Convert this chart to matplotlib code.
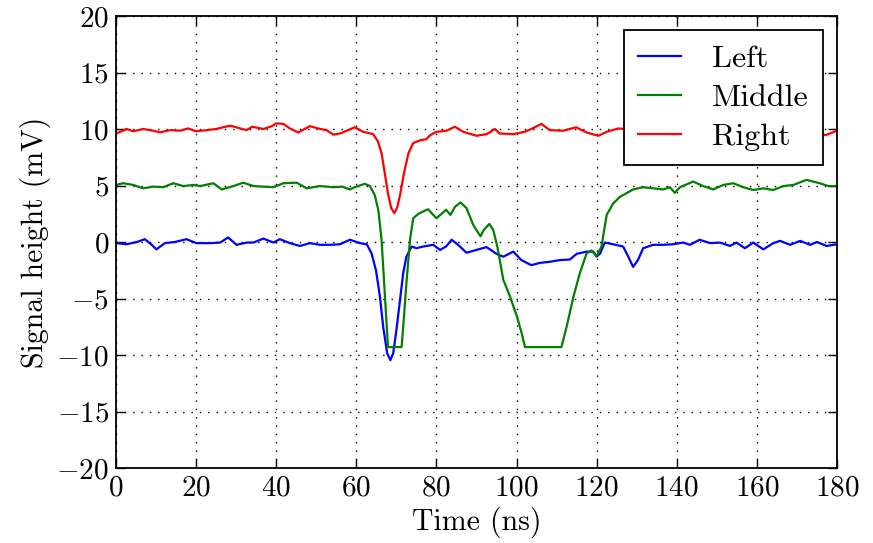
import matplotlib
matplotlib.use("Agg")
from matplotlib import pyplot as plt

# values (time in ns, height in mV)
t_left = [0, 2.7, 5.2, 7.2, 8.9, 10.1, 12.2, 14.7, 17.6, 20.1, 23.5, 26, 28, 30.1, 32.6, 34.3,
          36.8, 39.3, 40.9, 43.4, 45.9, 48.4, 50.9, 53.4, 55.9, 58.4, 60.9, 62.6, 63.8, 64.9,
          65.9, 66.7, 67.7, 68.5, 69.2, 70.0, 70.9, 71.7, 72.5, 73.8, 75.0, 76.7, 79.2, 80.9,
          82.4, 83.8, 85.4, 87.5, 90, 92.5, 95, 96.7, 99.2, 101.2, 103.7, 105.8, 108.3, 110.8,
          113.3, 115, 117.5, 119.1, 120, 120.9, 122.0, 124.1, 126.6, 127.9, 129.1, 130.3, 131.6,
          134.1, 136.6, 139.1, 141.6, 143.3, 145.7, 148.3, 150.8, 153.3, 154.9, 157.0, 159.1,
          161.6, 164.1, 165.8, 168.3, 170.8, 173.3, 175, 177.4, 180]
left = [-0.1, -0.2, 0.0, 0.25, -0.25, -0.65, -0.1, 0.0, 0.25, -0.1, -0.1, -0.05, 0.4, -0.25,
        -0.05, -0.05, 0.3, -0.05, 0.25, -0.1, -0.35, -0.1, -0.25, -0.25, -0.2, 0.2, -0.1, -0.2,
        -1.0, -2.5, -4.85, -7.5, -9.85, -10.45, -9.85, -7.8, -5.15, -2.75, -1.3, -0.4, -0.55,
        -0.4, -0.25, -0.7, -0.4, 0.2, -0.25, -0.95, -0.7, -0.45, -1.05, -1.3, -0.85, -1.6, -2.05,
        -1.85, -1.75, -1.6, -1.55, -1.05, -0.85, -0.85, -1.3, -1.0, -0.05, -0.2, -0.4, -1.3, -2.2,
        -1.6, -0.55, -0.25, -0.25, -0.2, -0.05, -0.25, 0.2, -0.1, -0.05, -0.35, -0.05, -0.55,
        -0.05, -0.65, -0.1, 0.1, -0.25, 0.1, -0.25, 0.0, -0.35, -0.2]

t_middle = [0, 1.8, 4.3, 6.8, 9.3, 11.8, 14.3, 16.8, 19.3, 21, 24.3, 26.4, 29.3, 31.8, 34.3,
            36.8, 39.3, 41.8, 45.1, 47.6, 50.9, 54.2, 56.5, 58.4, 59.6, 62.1, 63.4, 64.6, 65.5,
            66.3, 67.1, 67.9, 71.3, 71.7, 72.5, 73.4, 74.2, 75.5, 77.9, 80, 81.3, 82.4, 83.5,
            84.6, 86.0, 87.5, 89.2, 91.0, 91.8, 93.2, 94.2, 95.2, 96.7, 98.4, 100.1, 101.3, 102.1,
            111.2, 112.5, 114.2, 115.8, 117.5, 118.7, 120, 121.2, 121.8, 122.5, 124.1, 125.8,
            126.6, 129.1, 131.6, 134.1, 136.6, 138.3, 139.5, 140.8, 144.1, 146.6, 149.1, 151.6,
            154.1, 156.6, 159.1, 161.6, 164.1, 166.6, 169.1, 172.4, 174.0, 175.7, 177.8, 180]
middle = [5.05, 5.2, 5.05, 4.75, 4.9, 4.85, 5.2, 4.95, 5.05, 4.95, 5.2, 4.65, 4.95, 5.25, 4.95,
          4.9, 4.85, 5.2, 5.25, 4.75, 4.95, 4.85, 4.9, 4.65, 4.85, 5.15, 4.95, 4.15, 2.8,
          0.2, -4.55, -9.3, -9.3, -7.5, -3.65, 0.2, 2.1, 2.5, 2.9, 2.1, 2.5, 2.85, 2.4,
          3.1, 3.5, 3.0, 1.5, 0.5, 1.05, 1.6, 1.05, -0.4, -3.35, -4.85, -6.6, -8.1, -9.3,
          -9.3, -7.5, -4.85, -2.75, -1.0, -0.75, -1.25, -0.4, 0.9, 2.4, 3.4, 4.0,
          4.15, 4.65, 4.85, 4.75, 4.65, 4.85, 4.35, 4.85, 5.35, 4.95, 4.65, 5.05,
          5.2, 4.85, 4.6, 4.75, 4.6, 4.95, 5.05, 5.5, 5.35, 5.2, 4.95, 4.95]

t_right = [0, 2.7, 4.3, 6.8, 9.3, 11, 13.5, 16, 18, 20, 22.6, 25, 28.5, 31, 32.6, 34, 36.8,
           38.9, 40, 41.8, 43.4, 45.5, 48.4, 51, 52.6, 54.2, 55.9, 57.6, 59.6, 61.7, 64.2, 65.4,
           66.3, 67.1, 67.9, 68.7, 69.5, 70.2, 71.0, 71.9, 73.0, 74.2, 75.9, 77.5, 78.4, 80,
           82.5, 84.6, 86.7, 90, 92.6, 94.6, 95.8, 99.2, 102, 103.7, 106.2, 108.3, 111.6, 114.9,
           117.4, 120.4, 122.5, 125.4, 130, 135, 140, 145, 150, 155, 160, 165, 170, 174,
           177.1, 180]
right = [9.6, 10.0, 9.8, 10.0, 9.85, 9.7, 9.9, 9.85, 10.05, 9.8, 9.9, 10.0, 10.3, 10.05, 9.9,
         10.2, 10.0, 10.25, 10.5, 10.45, 10.05, 9.7, 10.25, 10.0, 9.9, 9.5, 9.6, 9.85, 10.15,
         9.75, 9.55, 8.9, 7.85, 6.1, 4.3, 3.0, 2.55, 3.05, 4.3, 6.1, 7.85, 8.75, 9.0, 9.1, 9.45,
         9.75, 9.85, 10.2, 9.75, 9.4, 9.55, 10.0, 9.6, 9.55, 9.75, 10.0, 10.45, 9.9, 9.85, 10.15,
         9.7, 9.4, 9.75, 10.05, 9.9, 10.1, 9.8, 10.0, 10.15, 9.85, 10.0, 9.9, 10.1, 9.8,
         9.45, 9.85]

plt.rcParams['font.family'] = 'cmr10'
plt.rcParams['mathtext.fontset'] = 'cm'
plt.rcParams['axes.formatter.use_mathtext'] = True
plt.rcParams['font.size'] = 21

fig = plt.figure(figsize=(8.73, 5.43), dpi=100)
ax = fig.add_axes([116/873, 1 - 468/543, 721/873, 452/543])

ax.plot(t_left, left, color=(0, 0, 1), lw=1.6, label='Left')
ax.plot(t_middle, middle, color=(0, 0.5, 0), lw=1.6, label='Middle')
ax.plot(t_right, right, color=(1, 0, 0), lw=1.6, label='Right')

ax.set_xlim(0, 180)
ax.set_ylim(-20, 20)
ax.set_xticks(range(0, 181, 20))
ax.set_yticks(range(-20, 21, 5))
ax.grid(True, color='k', lw=1, linestyle=(0, (1, 5)))
ax.tick_params(direction='in', top=True, right=True, length=6.5, width=1, pad=5)
for s in ax.spines.values():
    s.set_linewidth(1.3)

ax.set_xlabel('Time (ns)', fontsize=21.5, labelpad=4)
ax.set_ylabel('Signal height (mV)', fontsize=21.5, labelpad=4)

leg = ax.legend(loc='upper right', fancybox=False, framealpha=1, edgecolor='k',
                prop={'size': 23}, handlelength=1.35, handletextpad=0.95, labelspacing=0.33,
                borderpad=0.45, borderaxespad=0.45)
leg.get_frame().set_linewidth(1.3)

fig.savefig('out.png', dpi=100)
